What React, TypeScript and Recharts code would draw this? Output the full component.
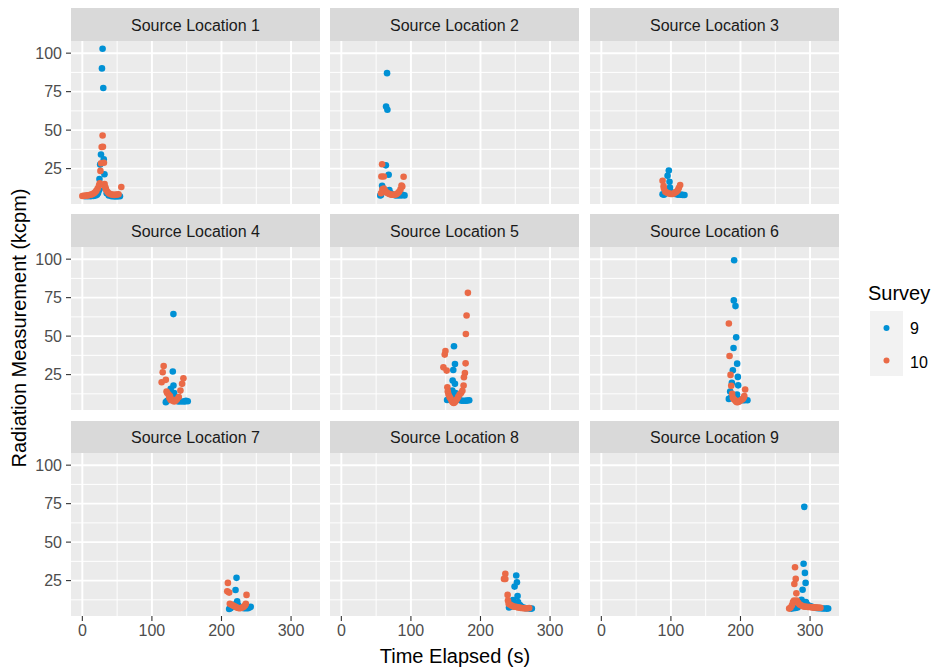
import React from "react";
import { ScatterChart, Scatter, XAxis, YAxis, CartesianGrid } from "recharts";

type Pt = [number, number];

const LOCATIONS = [
  "Source Location 1",
  "Source Location 2",
  "Source Location 3",
  "Source Location 4",
  "Source Location 5",
  "Source Location 6",
  "Source Location 7",
  "Source Location 8",
  "Source Location 9",
];
const SURVEYS = ["9", "10"];
const X_TICKS = [0, 100, 200, 300];
const X_MINOR = [50, 150, 250];
const Y_TICKS = [25, 50, 75, 100];
const Y_MINOR = [12.5, 37.5, 62.5, 87.5];
const X_DOMAIN: [number, number] = [-16.3, 341.6];
const Y_DOMAIN: [number, number] = [2.0, 107.9];

// Survey 9 / Survey 10 points per source location: [time, kcpm]
const loc1_s9: Pt[] = [[4, 7], [8, 7], [12, 7], [16, 7.2], [19, 7.5], [21, 8], [22.5, 9], [24, 11], [24.6, 18.2], [25.6, 27.6], [26.8, 34.2], [28.2, 90.1], [29.1, 102.9], [30.1, 77.4], [30.8, 31.1], [31.8, 21.3], [33, 12], [35, 9], [38, 7.5], [42, 7], [46, 6.9], [50, 6.9], [54, 7]];
const loc1_s10: Pt[] = [[0, 7.2], [2, 7.3], [4, 7.4], [6, 7.5], [8, 7.6], [10, 7.8], [12, 8], [14, 8.3], [16, 8.8], [18, 9.5], [20, 10.5], [22, 12], [24, 14], [25, 15.5], [26, 23.5], [27, 28.5], [27.8, 39], [29.1, 46.5], [29.6, 39.2], [31, 28.8], [32, 15], [33, 13], [34, 11.5], [36, 10], [38, 9], [40, 8.5], [42, 8.2], [44, 8], [46, 7.9], [48, 8], [50, 8.2], [52, 8.3], [56, 13]];

const loc2_s9: Pt[] = [[56, 7.5], [57, 7.9], [58.6, 13.8], [60, 12], [62, 10], [64, 27.1], [64.3, 65.3], [65.7, 87], [66.2, 63.2], [68, 21], [69, 11], [71, 9], [74, 8], [78, 7.6], [82, 7.5], [86, 7.6], [88, 8], [90.8, 7.6]];
const loc2_s10: Pt[] = [[57, 9], [57.6, 19.9], [58.6, 27.8], [59, 11.5], [61, 19.9], [61, 12], [63, 10.5], [65, 9.5], [67, 9], [69, 8.5], [71, 8.2], [73, 8], [75, 8], [77, 8], [79, 8.3], [81, 9], [83, 10], [85, 11.5], [86.5, 14], [87.6, 13.4], [89.5, 19.7]];

const loc3_s9: Pt[] = [[88, 8.3], [90, 8], [93, 9], [95.2, 20.4], [97, 23.7], [98, 16.4], [98.6, 12.7], [100, 10], [103, 9], [106, 8.5], [110, 8], [114, 8], [116, 8], [117, 7.8], [119.5, 7.8]];
const loc3_s10: Pt[] = [[88, 17.1], [89.5, 13.6], [90, 12], [92, 10], [94, 9.5], [96, 9], [98, 8.8], [100, 8.5], [102, 8.5], [104, 8.8], [106, 9.5], [108, 10], [110, 11], [111.5, 12.5], [113.3, 14.3]];

const loc4_s9: Pt[] = [[120, 7.1], [122, 8], [125, 11], [127, 15.7], [128, 10], [129, 12], [130, 27], [130.9, 64.3], [131, 17.9], [132, 13], [133, 10], [135, 8], [138, 7.5], [142, 7.5], [146, 7.5], [148, 7.7], [149, 8], [151.5, 7.7]];
const loc4_s10: Pt[] = [[114, 20], [115.5, 26.5], [116.9, 30.6], [120, 21.6], [121, 14], [122, 13], [124, 12], [125, 10], [126, 11], [127, 8.5], [128, 9], [130, 8], [132, 7.5], [134, 8], [136, 9], [138.6, 10.4], [141, 14.6], [143.4, 19], [145.3, 22.6]];

const loc5_s9: Pt[] = [[152, 8.5], [155, 9], [157, 10], [158, 12], [159.5, 14.6], [160, 21.1], [160.9, 28], [161.9, 43.4], [163.3, 31.9], [163.3, 19], [164, 13], [165, 11], [167, 9.5], [170, 8.5], [173, 8], [176, 8], [179, 8], [181, 8.2], [183.8, 8.3]];
const loc5_s10: Pt[] = [[146.7, 29.7], [148.6, 38], [149.6, 40.3], [151.4, 27.6], [152.4, 16.8], [153, 14], [154, 12], [155.5, 10.5], [157, 9.5], [158.5, 8], [160, 7], [161.5, 6.5], [163, 7], [164.5, 8], [166, 9], [168, 10.5], [170, 12], [172, 13], [174, 14.5], [175.7, 17.9], [176.2, 23.3], [177.6, 26], [178.6, 32.3], [179, 51.4], [180, 63.4], [181.9, 78.1]];

const loc6_s9: Pt[] = [[183.3, 9.2], [185.2, 14], [186, 10], [187.6, 19.6], [189, 27.8], [190, 42.3], [190.4, 73.2], [190.9, 99.3], [192.8, 69.5], [193.8, 49.2], [195.2, 32.1], [196.2, 23.5], [196.7, 18], [195, 12], [194, 10], [197, 9], [200, 8.5], [203, 8.3], [206, 8.3], [210, 8.3]];
const loc6_s10: Pt[] = [[183.3, 58.2], [184.3, 37.1], [185.7, 24.8], [186.7, 17.7], [188, 12.5], [189, 10], [190.5, 9], [192, 8.5], [193.5, 7.5], [195, 7], [196.5, 7.2], [198, 7.5], [199.5, 8], [201, 8.5], [203, 9], [204.5, 10], [205.5, 11], [206.7, 15.3]];

const loc7_s9: Pt[] = [[211, 6.5], [213, 7], [215, 8], [217, 9], [219, 9.5], [220.2, 18.9], [221.6, 26.8], [222.6, 11.5], [224, 9], [226, 8], [229, 7.5], [232, 7], [235, 7], [238, 7], [240.3, 7.5], [242, 8]];
const loc7_s10: Pt[] = [[208.3, 18], [209.2, 23.5], [211, 17.2], [212, 10], [214, 9.5], [216, 9], [218, 8.5], [220, 8], [222, 7.5], [224, 7.2], [226, 7], [228, 7.2], [230, 7.5], [232, 8], [234, 9], [235, 10], [236, 15.7]];

const loc8_s9: Pt[] = [[241, 7.5], [244, 8], [246.7, 12.4], [249, 21.1], [250, 10], [251.4, 28.3], [252.4, 23.9], [253.3, 15], [254, 11], [255, 9.5], [257, 9], [259, 8], [262, 7.5], [265, 7], [268, 7], [271, 6.8], [273.8, 6.8]];
const loc8_s10: Pt[] = [[233.8, 26.1], [235.7, 29.4], [235.7, 26], [239, 15.7], [239.5, 12], [240.5, 10], [242, 9.5], [244, 9], [246, 8.5], [248, 8], [250, 8], [252, 7.8], [254, 7.5], [256, 7.5], [258, 7.2], [260, 7.2], [262, 7], [264, 7], [266, 7], [268, 7], [270, 7.2]];

const loc9_s9: Pt[] = [[273, 6.8], [276, 7], [279, 7.2], [282, 7.5], [285, 8.5], [287.8, 12.6], [289.3, 19.1], [290.7, 35.9], [291.7, 72.9], [292.6, 30], [293.6, 23.5], [294, 11], [295, 10], [297, 9], [300, 8.5], [303, 8], [306, 7.5], [309, 7.2], [312, 7], [315, 7], [318, 6.9], [321, 6.9], [324, 6.8], [326, 6.9]];
const loc9_s10: Pt[] = [[270, 6.8], [272, 7.5], [274, 9], [275.5, 11], [277, 12], [277.4, 22.8], [278.4, 33.7], [279.4, 26.1], [280.3, 16.7], [281, 12], [283, 10.5], [285, 9.5], [287, 9], [289, 8.5], [291, 8.2], [293, 8], [295, 8], [297, 7.8], [299, 7.8], [301, 7.8], [303, 7.6], [305, 7.6], [307, 7.5], [309, 7.5], [311, 7.5], [313, 7.4], [315, 7.4]];

const PANEL_DATA: Pt[][][] = [
  [loc1_s9, loc1_s10],
  [loc2_s9, loc2_s10],
  [loc3_s9, loc3_s10],
  [loc4_s9, loc4_s10],
  [loc5_s9, loc5_s10],
  [loc6_s9, loc6_s10],
  [loc7_s9, loc7_s10],
  [loc8_s9, loc8_s10],
  [loc9_s9, loc9_s10],
];

const COLORS = ["#0091D5", "#EA6A47"];
const FONT = "'Liberation Sans', Arial, Helvetica, sans-serif";

const COL_LEFT = [71, 330, 590];
const ROW_TOP = [8, 214, 420.5];
const PANEL_W = 249;
const STRIP_H = 32.5;
const PANEL_H = 163;
const Y_AXIS_W = 71;
const X_AXIS_H = 40;

const makeDot = (color: string) => (props: any) => {
  if (props.cx == null || props.cy == null) return <g />;
  return <circle cx={props.cx} cy={props.cy} r={3.3} fill={color} />;
};

function Panel({ idx }: { idx: number }) {
  const col = idx % 3;
  const row = Math.floor(idx / 3);
  const showY = col === 0;
  const showX = row === 2;
  const left = showY ? COL_LEFT[col] - Y_AXIS_W : COL_LEFT[col];
  const width = PANEL_W + (showY ? Y_AXIS_W : 0);
  const top = ROW_TOP[row] + STRIP_H;
  const height = PANEL_H + (showX ? X_AXIS_H : 0);
  const series = PANEL_DATA[idx].map((arr) => arr.map(([x, y]) => ({ x, y })));
  return (
    <>
      <div
        style={{
          position: "absolute",
          left: COL_LEFT[col],
          top: ROW_TOP[row],
          width: PANEL_W,
          height: STRIP_H,
          background: "#D9D9D9",
          color: "#1A1A1A",
          fontSize: 16,
          display: "flex",
          alignItems: "center",
          justifyContent: "center",
          boxSizing: "border-box",
          paddingTop: 3,
        }}
      >
        {LOCATIONS[idx]}
      </div>
      <div style={{ position: "absolute", left, top }}>
        <ScatterChart width={width} height={height} margin={{ top: 0, right: 0, bottom: 0, left: 0 }}>
          <CartesianGrid
            fill="#EBEBEB"
            fillOpacity={1}
            stroke="#FFFFFF"
            strokeWidth={0.97}
            horizontalValues={Y_MINOR}
            verticalValues={X_MINOR}
          />
          <CartesianGrid
            stroke="#FFFFFF"
            strokeWidth={1.94}
            horizontalValues={Y_TICKS}
            verticalValues={X_TICKS}
          />
          <XAxis
            type="number"
            dataKey="x"
            domain={X_DOMAIN}
            ticks={X_TICKS}
            interval={0}
            allowDataOverflow
            hide={!showX}
            height={X_AXIS_H}
            axisLine={false}
            tickSize={5}
            tickMargin={4}
            tickLine={{ stroke: "#333333", strokeWidth: 1.1 }}
            tick={{ fill: "#4D4D4D", fontSize: 16, fontFamily: FONT }}
          />
          <YAxis
            type="number"
            dataKey="y"
            domain={Y_DOMAIN}
            ticks={Y_TICKS}
            interval={0}
            allowDataOverflow
            hide={!showY}
            width={Y_AXIS_W}
            axisLine={false}
            tickSize={5}
            tickMargin={4}
            tickLine={{ stroke: "#333333", strokeWidth: 1.1 }}
            tick={{ fill: "#4D4D4D", fontSize: 16, fontFamily: FONT }}
          />
          {series.map((d, i) => (
            <Scatter
              key={SURVEYS[i]}
              name={SURVEYS[i]}
              data={d}
              fill={COLORS[i]}
              shape={makeDot(COLORS[i])}
              isAnimationActive={false}
            />
          ))}
        </ScatterChart>
      </div>
    </>
  );
}

export default function App() {
  return (
    <div
      style={{
        position: "absolute",
        left: 0,
        top: 0,
        width: 933,
        height: 668,
        background: "#FFFFFF",
        fontFamily: FONT,
        overflow: "hidden",
      }}
    >
      {LOCATIONS.map((_, i) => (
        <Panel key={i} idx={i} />
      ))}
      {/* Axis titles */}
      <div
        style={{
          position: "absolute",
          left: 71,
          width: 768,
          top: 644,
          textAlign: "center",
          fontSize: 20,
          lineHeight: "24px",
          color: "#000000",
        }}
      >
        Time Elapsed (s)
      </div>
      <div
        style={{
          position: "absolute",
          left: 19,
          top: 328,
          transform: "translate(-50%, -50%) rotate(-90deg)",
          whiteSpace: "nowrap",
          fontSize: 20,
          lineHeight: "24px",
          color: "#000000",
        }}
      >
        Radiation Measurement (kcpm)
      </div>
      {/* Legend */}
      <div
        style={{
          position: "absolute",
          left: 868,
          top: 281,
          fontSize: 20,
          lineHeight: "24px",
          color: "#000000",
        }}
      >
        Survey
      </div>
      <div
        style={{
          position: "absolute",
          left: 870,
          top: 311,
          width: 33,
          height: 65,
          background: "#F2F2F2",
        }}
      />
      <svg style={{ position: "absolute", left: 870, top: 311 }} width={33} height={65}>
        {SURVEYS.map((s, i) => (
          <circle key={s} cx={16.5} cy={17 + i * 32.5} r={3} fill={COLORS[i]} />
        ))}
      </svg>
      {SURVEYS.map((s, i) => (
        <div
          key={s}
          style={{
            position: "absolute",
            left: 910,
            top: 318.5 + i * 34,
            fontSize: 16,
            lineHeight: "20px",
            color: "#000000",
          }}
        >
          {s}
        </div>
      ))}
    </div>
  );
}
